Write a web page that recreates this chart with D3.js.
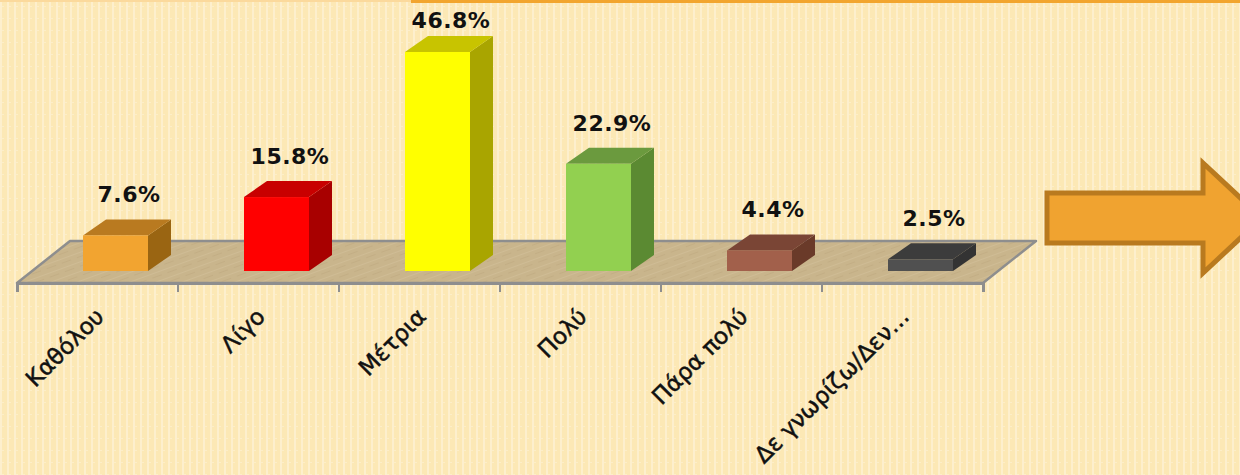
<!DOCTYPE html>
<html>
<head>
<meta charset="utf-8">
<script src="https://cdn.jsdelivr.net/npm/d3@7"></script>
<style>
  body { margin: 0; background: #fce8b5; }
  svg { display: block; }
</style>
</head>
<body>
<div id="chart"></div>
<script>
// Chart data
var categories = ["Καθόλου", "Λίγο", "Μέτρια", "Πολύ", "Πάρα πολύ", "Δε γνωρίζω/Δεν…"];
var values = [7.6, 15.8, 46.8, 22.9, 4.4, 2.5];

// front / top / side colours for each bar
var frontColors = ["#f2a430", "#ff0000", "#ffff00", "#92d050", "#a2604b", "#505050"];
var topColors = ["#b97a20", "#c80000", "#c8c400", "#6b9a3e", "#7a4535", "#3c3c3c"];
var sideColors = ["#9a6512", "#a80000", "#a9a500", "#5b8a32", "#6a3a29", "#333333"];

var svgWidth = 1240;
var svgHeight = 475;

var svg = d3.select("#chart")
  .append("svg")
  .attr("width", svgWidth)
  .attr("height", svgHeight);

// Background texture
var defs = svg.append("defs");
var bgPat = defs.append("pattern")
  .attr("id", "bg")
  .attr("width", 7)
  .attr("height", 12)
  .attr("patternUnits", "userSpaceOnUse");
bgPat.append("rect").attr("width", 7).attr("height", 12).attr("fill", "#fce8b5");
bgPat.append("rect").attr("x", 0).attr("width", 2).attr("height", 12).attr("fill", "#fdefcd");
bgPat.append("rect").attr("x", 2).attr("y", 6).attr("width", 2).attr("height", 1).attr("fill", "#fdeec8");

var woodPat = defs.append("pattern")
  .attr("id", "wood")
  .attr("width", 16)
  .attr("height", 9)
  .attr("patternUnits", "userSpaceOnUse")
  .attr("patternTransform", "rotate(-20)");
woodPat.append("rect").attr("width", 16).attr("height", 9).attr("fill", "#c9b58c");
woodPat.append("rect").attr("y", 3).attr("width", 16).attr("height", 1).attr("fill", "#cfbc95");
woodPat.append("rect").attr("y", 7).attr("width", 10).attr("height", 1).attr("fill", "#c3ae85");

svg.append("rect")
  .attr("width", svgWidth)
  .attr("height", svgHeight)
  .attr("fill", "url(#bg)");

// Top band (edge of the title area)
svg.append("rect")
  .attr("x", 0).attr("y", 0)
  .attr("width", svgWidth).attr("height", 2)
  .attr("fill", "#fbd99c");
svg.append("rect")
  .attr("x", 411).attr("y", 0)
  .attr("width", svgWidth - 411).attr("height", 3)
  .attr("fill", "#f2a52e");

// Scales
var floorFront = 283;
var floorDepth = { dx: 53, dy: -42 };
var barDepth = { dx: 23, dy: -16 };
var barBase = 271;

var x = d3.scaleBand()
  .domain(categories)
  .range([17, 983]);

var y = d3.scaleLinear()
  .domain([0, 50])
  .range([barBase, barBase - 234]);

var barOffset = 66;
var barWidth = 65;

// Floor
var fx0 = x.range()[0], fx1 = x.range()[1];
svg.append("path")
  .attr("d", `M${fx0},${floorFront} L${fx0 + floorDepth.dx},${floorFront + floorDepth.dy} L${fx1 + floorDepth.dx},${floorFront + floorDepth.dy} L${fx1},${floorFront} Z`)
  .attr("fill", "url(#wood)")
  .attr("stroke", "#8e8e8e")
  .attr("stroke-width", 2.5)
  .attr("stroke-linejoin", "round");

// Axis along the front edge of the floor
var bottomAxis = d3.axisBottom(x)
  .tickSize(9)
  .tickFormat("");

var axisG = svg.append("g")
  .attr("transform", `translate(0, ${floorFront})`)
  .call(bottomAxis);
axisG.select(".domain").attr("stroke", "#8e8e8e").attr("stroke-width", 3);
axisG.selectAll(".tick line")
  .attr("stroke", "#8e8e8e")
  .attr("stroke-width", 2)
  .attr("transform", d => `translate(${-x.bandwidth() / 2}, 0)`);
// last tick at the right end
axisG.append("line")
  .attr("x1", fx1).attr("x2", fx1)
  .attr("y1", 0).attr("y2", 9)
  .attr("stroke", "#8e8e8e").attr("stroke-width", 2);

// 3D bars
var bars = svg.selectAll("g.bar")
  .data(values)
  .enter()
  .append("g")
  .attr("class", "bar");

bars.append("path")
  .attr("d", (d, i) => {
    var x0 = x(categories[i]) + barOffset, x1 = x0 + barWidth, t = y(d);
    return `M${x1},${t} L${x1 + barDepth.dx},${t + barDepth.dy} L${x1 + barDepth.dx},${barBase + barDepth.dy} L${x1},${barBase} Z`;
  })
  .attr("fill", (d, i) => sideColors[i]);

bars.append("path")
  .attr("d", (d, i) => {
    var x0 = x(categories[i]) + barOffset, x1 = x0 + barWidth, t = y(d);
    return `M${x0},${t} L${x0 + barDepth.dx},${t + barDepth.dy} L${x1 + barDepth.dx},${t + barDepth.dy} L${x1},${t} Z`;
  })
  .attr("fill", (d, i) => topColors[i]);

bars.append("rect")
  .attr("x", (d, i) => x(categories[i]) + barOffset)
  .attr("y", d => y(d))
  .attr("width", barWidth)
  .attr("height", d => barBase - y(d))
  .attr("fill", (d, i) => frontColors[i]);

// Value labels
var fmt = d3.format(".1f");
svg.selectAll("text.value")
  .data(values)
  .enter()
  .append("text")
  .attr("class", "value")
  .attr("x", (d, i) => x(categories[i]) + barOffset + barWidth / 2 + barDepth.dx / 2 + 2)
  .attr("y", d => Math.max(y(d) + barDepth.dy - 17, 28))
  .attr("text-anchor", "middle")
  .style("font-family", "'DejaVu Sans', sans-serif")
  .style("font-weight", "bold")
  .style("font-size", "22px")
  .style("letter-spacing", "0.5px")
  .style("fill", "#111")
  .text(d => fmt(d) + "%");

// Category labels
svg.selectAll("text.cat")
  .data(categories)
  .enter()
  .append("text")
  .attr("class", "cat")
  .attr("transform", d => `translate(${x(d) + x.bandwidth() / 2 + 8}, 318) rotate(-45)`)
  .attr("text-anchor", "end")
  .style("font-family", "'DejaVu Sans', sans-serif")
  .style("font-size", "23px")
  .style("fill", "#111")
  .style("stroke", "#111")
  .style("stroke-width", "0.5px")
  .text(d => d);

// Block arrow on the right
svg.append("path")
  .attr("d", "M1047,193 L1203,193 L1203,163 L1262,218 L1203,273 L1203,243 L1047,243 Z")
  .attr("fill", "#f0a330")
  .attr("stroke", "#b97a1f")
  .attr("stroke-width", 5)
  .attr("stroke-linejoin", "miter");
</script>
</body>
</html>
